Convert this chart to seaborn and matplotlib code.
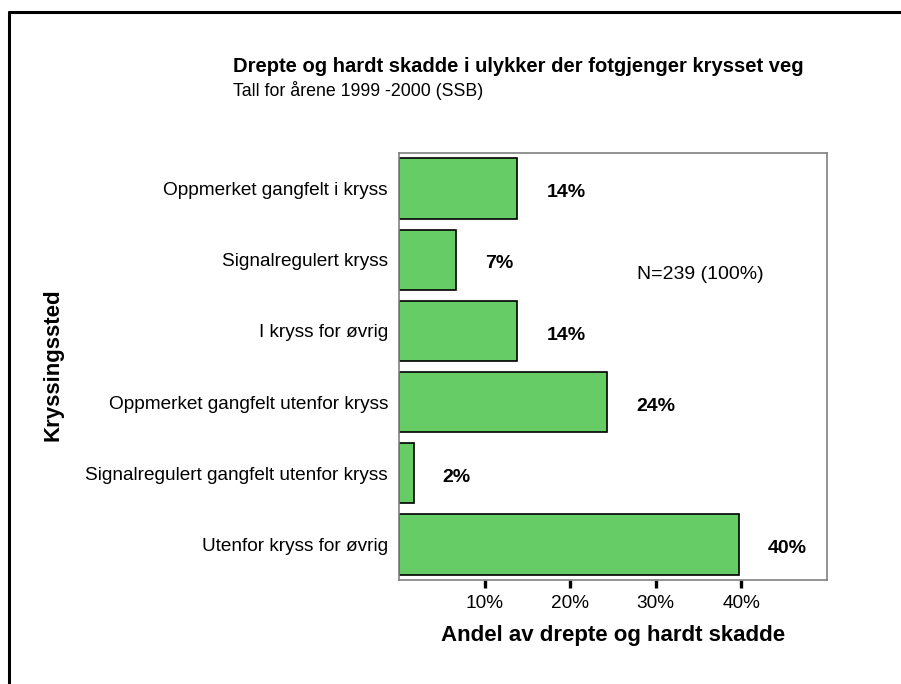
import matplotlib
matplotlib.use("Agg")
import matplotlib.pyplot as plt
import seaborn as sns
import pandas as pd
from matplotlib.lines import Line2D

# data
steder = ['Oppmerket gangfelt i kryss', 'Signalregulert kryss', 'I kryss for øvrig',
          'Oppmerket gangfelt utenfor kryss', 'Signalregulert gangfelt utenfor kryss',
          'Utenfor kryss for øvrig']
andel = [13.8, 6.7, 13.8, 24.3, 1.7, 39.7]
x_ticks = [10, 20, 30, 40]
x_ticklabels = ['10%', '20%', '30%', '40%']

df = pd.DataFrame({'sted': steder, 'andel': andel})

sns.set_style("white")
plt.rcParams['font.family'] = ['Liberation Sans', 'DejaVu Sans']
plt.rcParams['text.color'] = 'black'
plt.rcParams['xtick.color'] = 'black'
plt.rcParams['ytick.color'] = 'black'
plt.rcParams['axes.labelcolor'] = 'black'

fig = plt.figure(figsize=(9.01, 6.84), dpi=100)
ax = fig.add_axes([399 / 901, 1 - 580 / 684, 428 / 901, 427 / 684])

sns.barplot(data=df, x='andel', y='sted', orient='h', color='#66CC66',
            edgecolor='black', linewidth=1.2, width=0.85, saturation=1, ax=ax)

# verdier ved siden av stolpene
for p, v in zip(ax.patches, andel):
    ax.annotate(f'{v:.0f}%', (p.get_x() + p.get_width(), p.get_y() + p.get_height() / 2),
                xytext=(21, -3), textcoords='offset points', ha='left', va='center',
                fontsize=14, fontweight='bold')

ax.set_xlim(0, 50)
ax.set_ylim(5.5, -0.5)
ax.set_xticks(x_ticks)
ax.set_xticklabels(x_ticklabels, fontsize=13.7)
ax.tick_params(axis='x', bottom=True, direction='out', length=5.5, width=2.4,
               color='black', pad=5)
ax.tick_params(axis='y', left=False, length=0, pad=8, labelsize=13.7)
ax.set_xlabel('Andel av drepte og hardt skadde', fontsize=16, fontweight='bold', labelpad=10)
ax.set_ylabel('')
for s in ax.spines.values():
    s.set_color('#808080')
    s.set_linewidth(1.2)

ax.text(0.556, 0.715, 'N=239 (100%)', transform=ax.transAxes, fontsize=14, va='center')

fig.text(233 / 901, 1 - 67 / 684, 'Drepte og hardt skadde i ulykker der fotgjenger krysset veg',
         fontsize=14.5, fontweight='bold', va='center')
fig.text(233 / 901, 1 - 91 / 684, 'Tall for årene 1999 -2000 (SSB)', fontsize=12.8, va='center')
fig.text(53 / 901, 1 - 365 / 684, 'Kryssingssted', rotation=90, fontsize=16,
         fontweight='bold', ha='center', va='center')

# ramme rundt figuren (venstre og topp)
fig.add_artist(Line2D([9 / 901, 9 / 901], [0, 1 - 12 / 684], transform=fig.transFigure,
                      color='black', linewidth=2.2))
fig.add_artist(Line2D([9 / 901, 1], [1 - 12 / 684, 1 - 12 / 684], transform=fig.transFigure,
                      color='black', linewidth=2.2))

fig.savefig('out.png', dpi=100)
